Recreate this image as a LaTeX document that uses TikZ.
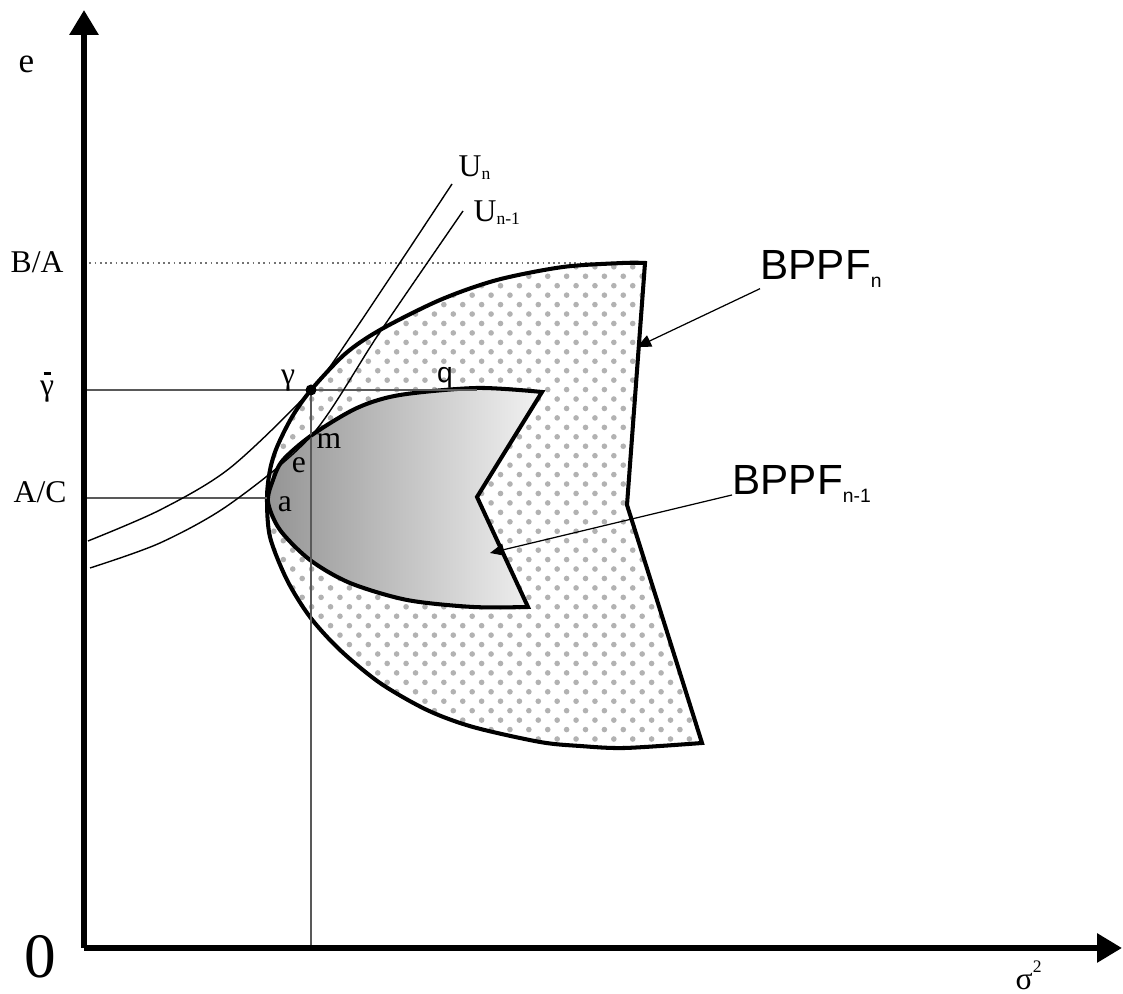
\documentclass[tikz,border=0pt]{standalone}
\usepackage{fontspec}
\setmainfont{Liberation Serif}
\setsansfont{Liberation Sans}
\usetikzlibrary{arrows.meta,patterns.meta}

\newcommand{\subsans}[1]{\raisebox{-0.08cm}{\fontsize{5.5}{6}\selectfont #1}}
\newcommand{\subser}[1]{\raisebox{-0.03cm}{\fontsize{5}{6}\selectfont #1}}
\newcommand{\gambar}{\makebox[0pt][l]{\hspace{0.035cm}\rule[0.205cm]{0.07cm}{0.03cm}}γ}

\tikzset{
  axis/.style={line width=1.7pt,-{Triangle[length=0.25cm,width=0.28cm]}},
  frontier/.style={line width=1.15pt,line join=miter},
  guide/.style={black!65,line width=0.3pt},
  indiff/.style={line width=0.4pt},
  pointer/.style={line width=0.35pt,-{Triangle[length=4pt,width=3.5pt]}},
  lbl/.style={font=\fontsize{9}{10}\selectfont,inner sep=0pt},
  bigl/.style={font=\sffamily\fontsize{12}{14}\selectfont,inner sep=0pt},
}

\begin{document}
\begin{tikzpicture}
  \useasboundingbox (0,0) rectangle (11.23,9.94);
  \coordinate (O) at (0.84,0.46);
  \coordinate (ytop) at (0.84,9.84);
  \coordinate (xend) at (11.22,0.46);
  \coordinate (gam) at (3.11,6.04);
  \coordinate (pa) at (2.67,4.96);
  \coordinate (pq) at (4.77,6.04);
  \coordinate (topB) at (6.23,7.31);
  \coordinate (axB) at (0.84,7.31);
  \coordinate (axG) at (0.84,6.04);
  \coordinate (axC) at (0.84,4.96);
  \coordinate (foot) at (3.11,0.46);
  \coordinate (tipn) at (6.37,6.47);
  \coordinate (tipm) at (4.90,4.41);

  % level of B/A
  \draw[densely dotted,black!55,line width=0.5pt] (axB) -- (topB);

  % BPPF_n
  \draw[frontier,pattern={Dots[radius=0.8pt,distance=3.8pt,angle=45]},pattern color=black!30]
    plot[smooth] coordinates {(6.45,7.31) (6.23,7.31) (5.63,7.27) (4.97,7.14) (4.40,6.94)
      (3.80,6.64) (3.45,6.40) (3.11,6.04) (2.92,5.77) (2.77,5.47) (2.70,5.24) (2.67,4.96)
      (2.70,4.57) (2.87,4.14) (3.10,3.77) (3.40,3.44) (3.80,3.11) (4.27,2.84) (4.73,2.67)
      (5.40,2.52) (5.80,2.48) (6.25,2.46) (7.02,2.51)}
    -- (6.27,4.89) -- cycle;

  % BPPF_{n-1}
  \draw[frontier,left color=black!42,right color=black!5]
    plot[smooth] coordinates {(5.42,6.02) (4.77,6.06) (4.00,5.99) (3.57,5.86) (3.12,5.59)
      (2.83,5.34) (2.73,5.14) (2.68,4.92) (2.80,4.64) (3.10,4.34) (3.50,4.11) (4.07,3.94)
      (4.73,3.87) (5.28,3.87)}
    -- (4.77,4.97) -- cycle;

  % guide lines
  \draw[guide] (axG) -- (pq);
  \draw[guide] (axC) -- (pa);
  \draw[guide] (gam) -- (foot);

  % indifference curves
  \draw[indiff] plot[smooth] coordinates {(0.88,4.53) (1.60,4.84) (2.30,5.26) (3.11,6.04) (3.55,6.64) (4.52,8.10)};
  \draw[indiff] plot[smooth] coordinates {(0.90,4.26) (1.60,4.51) (2.30,4.90) (3.12,5.59) (3.80,6.62) (4.63,7.83)};
  \fill (gam) circle (0.055);

  % axes
  \draw[axis] (O) -- (ytop);
  \draw[axis] (O) -- (xend);

  % labels
  \node[lbl,font=\fontsize{10}{11}\selectfont,anchor=base west] (le) at (0.18,9.21) {e};
  \node[lbl,anchor=base west] (lba) at (0.10,7.21) {B/A};
  \node[lbl,anchor=base] (lgb) at (0.47,5.98) {\gambar};
  \node[lbl,anchor=base west] (lac) at (0.13,4.91) {A/C};
  \node[lbl,font=\fontsize{18}{20}\selectfont,anchor=base] (lzero) at (0.40,0.16) {0};
  \node[lbl,anchor=base west] (lsig) at (10.15,0.04) {σ\raisebox{0.17cm}{\fontsize{5}{6}\selectfont 2}};
  \node[lbl,anchor=base west] (lun) at (4.58,8.17) {U\subser{n}};
  \node[lbl,anchor=base west] (lun1) at (4.73,7.72) {U\subser{n-1}};
  \node[lbl,anchor=base] (lgam) at (2.88,6.09) {γ};
  \node[lbl,anchor=base] (lm) at (3.29,5.45) {m};
  \node[lbl,anchor=base] (le2) at (2.99,5.21) {e};
  \node[lbl,anchor=base] (la) at (2.85,4.82) {a};
  \node[lbl,font=\sffamily\fontsize{8}{9}\selectfont,anchor=base] (lq) at (4.45,6.11) {q};
  \node[bigl,anchor=base west] (bn) at (7.60,7.14) {BPPF\subsans{n}};
  \node[bigl,anchor=base west] (bn1) at (7.32,4.99) {BPPF\subsans{n-1}};

  \draw[pointer] (bn.south west) -- (tipn);
  \draw[pointer] (bn1.base west) -- (tipm);
\end{tikzpicture}
\end{document}
